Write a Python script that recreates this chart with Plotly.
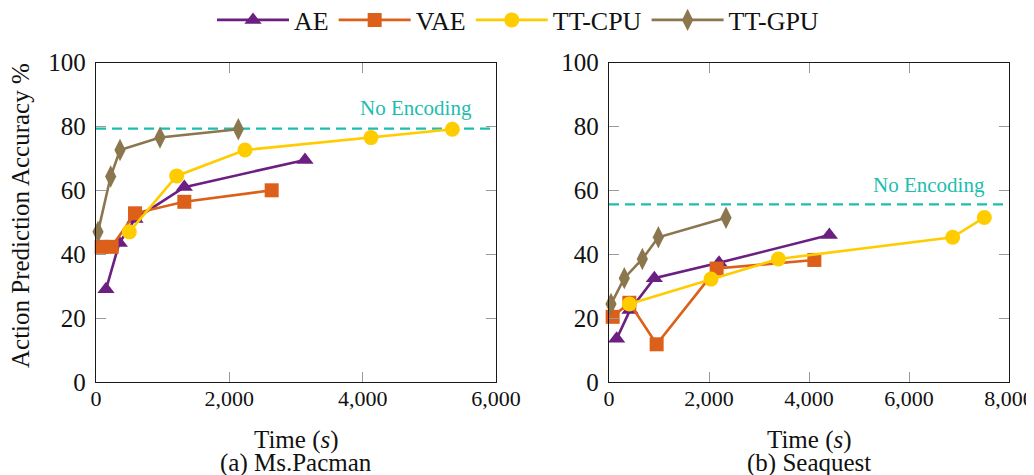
import plotly.graph_objects as go

# ---------------- data ----------------
series_names = ["AE", "VAE", "TT-CPU", "TT-GPU"]

# (a) Ms.Pacman
pac_ae_x = [150, 350, 585, 1325, 3135]
pac_ae_y = [29.0, 43.5, 51.0, 61.0, 69.5]
pac_vae_x = [85, 235, 585, 1325, 2635]
pac_vae_y = [42.3, 42.3, 52.8, 56.4, 60.0]
pac_cpu_x = [500, 1210, 2235, 4125, 5345]
pac_cpu_y = [47.0, 64.5, 72.6, 76.5, 79.1]
pac_gpu_x = [30, 220, 360, 960, 2135]
pac_gpu_y = [47.0, 64.3, 72.6, 76.5, 79.1]
pac_no_encoding = 79.3

# (b) Seaquest
sea_ae_x = [153, 420, 907, 2200, 4407]
sea_ae_y = [13.5, 22.5, 32.5, 37.3, 46.0]
sea_vae_x = [73, 407, 953, 2153, 4107]
sea_vae_y = [20.4, 24.8, 11.8, 35.5, 38.2]
sea_cpu_x = [407, 2040, 3387, 6873, 7507]
sea_cpu_y = [24.4, 32.2, 38.5, 45.3, 51.5]
sea_gpu_x = [40, 306, 667, 987, 2340]
sea_gpu_y = [24.4, 32.5, 38.5, 45.3, 51.4]
sea_no_encoding = 55.6

x_ticks_pac = [0, 2000, 4000, 6000]
x_ticks_sea = [0, 2000, 4000, 6000, 8000]
y_ticks = [0, 20, 40, 60, 80, 100]

subtitles = ["(a) Ms.Pacman", "(b) Seaquest"]
x_title = "Time (<i>s</i>)"
y_title = "Action Prediction Accuracy %"
ref_label = "No Encoding"

# ---------------- style ----------------
FONT = "Liberation Serif"
colors = {"AE": "#6B1F80", "VAE": "#DC601A", "TT-CPU": "#FFCC00", "TT-GPU": "#8B764E"}
symbols = {"AE": "triangle-up", "VAE": "square", "TT-CPU": "circle", "TT-GPU": "diamond-tall"}
sizes = {"AE": 15, "VAE": 14, "TT-CPU": 15, "TT-GPU": 16}
TEAL = "#1DBDB0"

# the page body adds an 8px offset; the figure is sized to fill the rest
OFF = 8
W, H = 1034 - OFF, 475 - OFF
def px(x):
    return (x - OFF) / W
def py(y):
    return 1 - (y - OFF) / H

fig = go.Figure()

panels = [
    ("x", "y", {"AE": (pac_ae_x, pac_ae_y), "VAE": (pac_vae_x, pac_vae_y),
                "TT-CPU": (pac_cpu_x, pac_cpu_y), "TT-GPU": (pac_gpu_x, pac_gpu_y)}, True),
    ("x2", "y2", {"AE": (sea_ae_x, sea_ae_y), "VAE": (sea_vae_x, sea_vae_y),
                  "TT-CPU": (sea_cpu_x, sea_cpu_y), "TT-GPU": (sea_gpu_x, sea_gpu_y)}, False),
]

for xa, ya, data, show in panels:
    for name in series_names:
        xs, ys = data[name]
        fig.add_trace(go.Scatter(
            x=xs, y=ys, name=name, mode="lines+markers",
            xaxis=xa, yaxis=ya, showlegend=show, cliponaxis=False,
            line=dict(color=colors[name], width=2.6),
            marker=dict(symbol=symbols[name], size=sizes[name], color=colors[name],
                        line=dict(width=0)),
        ))

# No Encoding reference lines
for xa, ya, val in [("x", "y", pac_no_encoding), ("x2", "y2", sea_no_encoding)]:
    fig.add_shape(type="line", xref=f"{xa} domain", yref=ya, x0=0, x1=1, y0=val, y1=val,
                  line=dict(color=TEAL, width=2.4, dash="10px,6px"), layer="below")

axis_common = dict(
    showline=True, linecolor="#1a1a1a", linewidth=1.3, mirror="allticks",
    ticks="inside", ticklen=10, tickcolor="#9a9a9a", tickwidth=1.2,
    showgrid=False, zeroline=False, automargin=False,
)

left_dom = [px(96), px(496)]
right_dom = [px(609), px(1009)]
y_dom = [py(382), py(62.5)]

fig.update_layout(
    template="none",
    width=W, height=H,
    margin=dict(l=0, r=0, t=0, b=0, pad=0, autoexpand=False),
    paper_bgcolor="white", plot_bgcolor="white",
    font=dict(family=FONT, color="#111111"),
    xaxis=dict(domain=left_dom, range=[0, 6000], tickvals=x_ticks_pac, tickformat=",",
               tickfont=dict(size=22, family=FONT, color="#111111"), anchor="y",
               ticklabelstandoff=-4, **axis_common),
    yaxis=dict(domain=y_dom, range=[0, 100], tickvals=y_ticks,
               tickfont=dict(size=25, family=FONT, color="#111111"), anchor="x",
               ticklabelstandoff=4, **axis_common),
    xaxis2=dict(domain=right_dom, range=[0, 8000], tickvals=x_ticks_sea, tickformat=",",
                tickfont=dict(size=22, family=FONT, color="#111111"), anchor="y2",
                ticklabelstandoff=-4, **axis_common),
    yaxis2=dict(domain=y_dom, range=[0, 100], tickvals=y_ticks,
                tickfont=dict(size=25, family=FONT, color="#111111"), anchor="x2",
                ticklabelstandoff=4, **axis_common),
    legend=dict(orientation="h", x=px(518), xanchor="center", y=py(20), yanchor="middle",
                yref="container", xref="container", font=dict(size=26, family=FONT),
                bgcolor="rgba(0,0,0,0)", itemwidth=72, tracegroupgap=0),
)

annotations = [
    dict(text=ref_label, xref="x", yref="y", x=4800, y=85.8, showarrow=False,
         font=dict(size=21, color=TEAL, family=FONT), xanchor="center", yanchor="middle"),
    dict(text=ref_label, xref="x2", yref="y2", x=6400, y=61.7, showarrow=False,
         font=dict(size=21, color=TEAL, family=FONT), xanchor="center", yanchor="middle"),
    dict(text=y_title, xref="paper", yref="paper", x=px(20), y=py(216), textangle=-90,
         showarrow=False, font=dict(size=25, family=FONT), xanchor="center", yanchor="middle"),
]
for cx, sub in [(296, subtitles[0]), (809, subtitles[1])]:
    annotations.append(dict(text=x_title, xref="paper", yref="paper", x=px(cx), y=py(440),
                            showarrow=False, font=dict(size=25, family=FONT),
                            xanchor="center", yanchor="middle"))
    annotations.append(dict(text=sub, xref="paper", yref="paper", x=px(cx), y=py(463),
                            showarrow=False, font=dict(size=25, family=FONT),
                            xanchor="center", yanchor="middle"))
fig.update_layout(annotations=annotations)

fig.write_html("out.html")
